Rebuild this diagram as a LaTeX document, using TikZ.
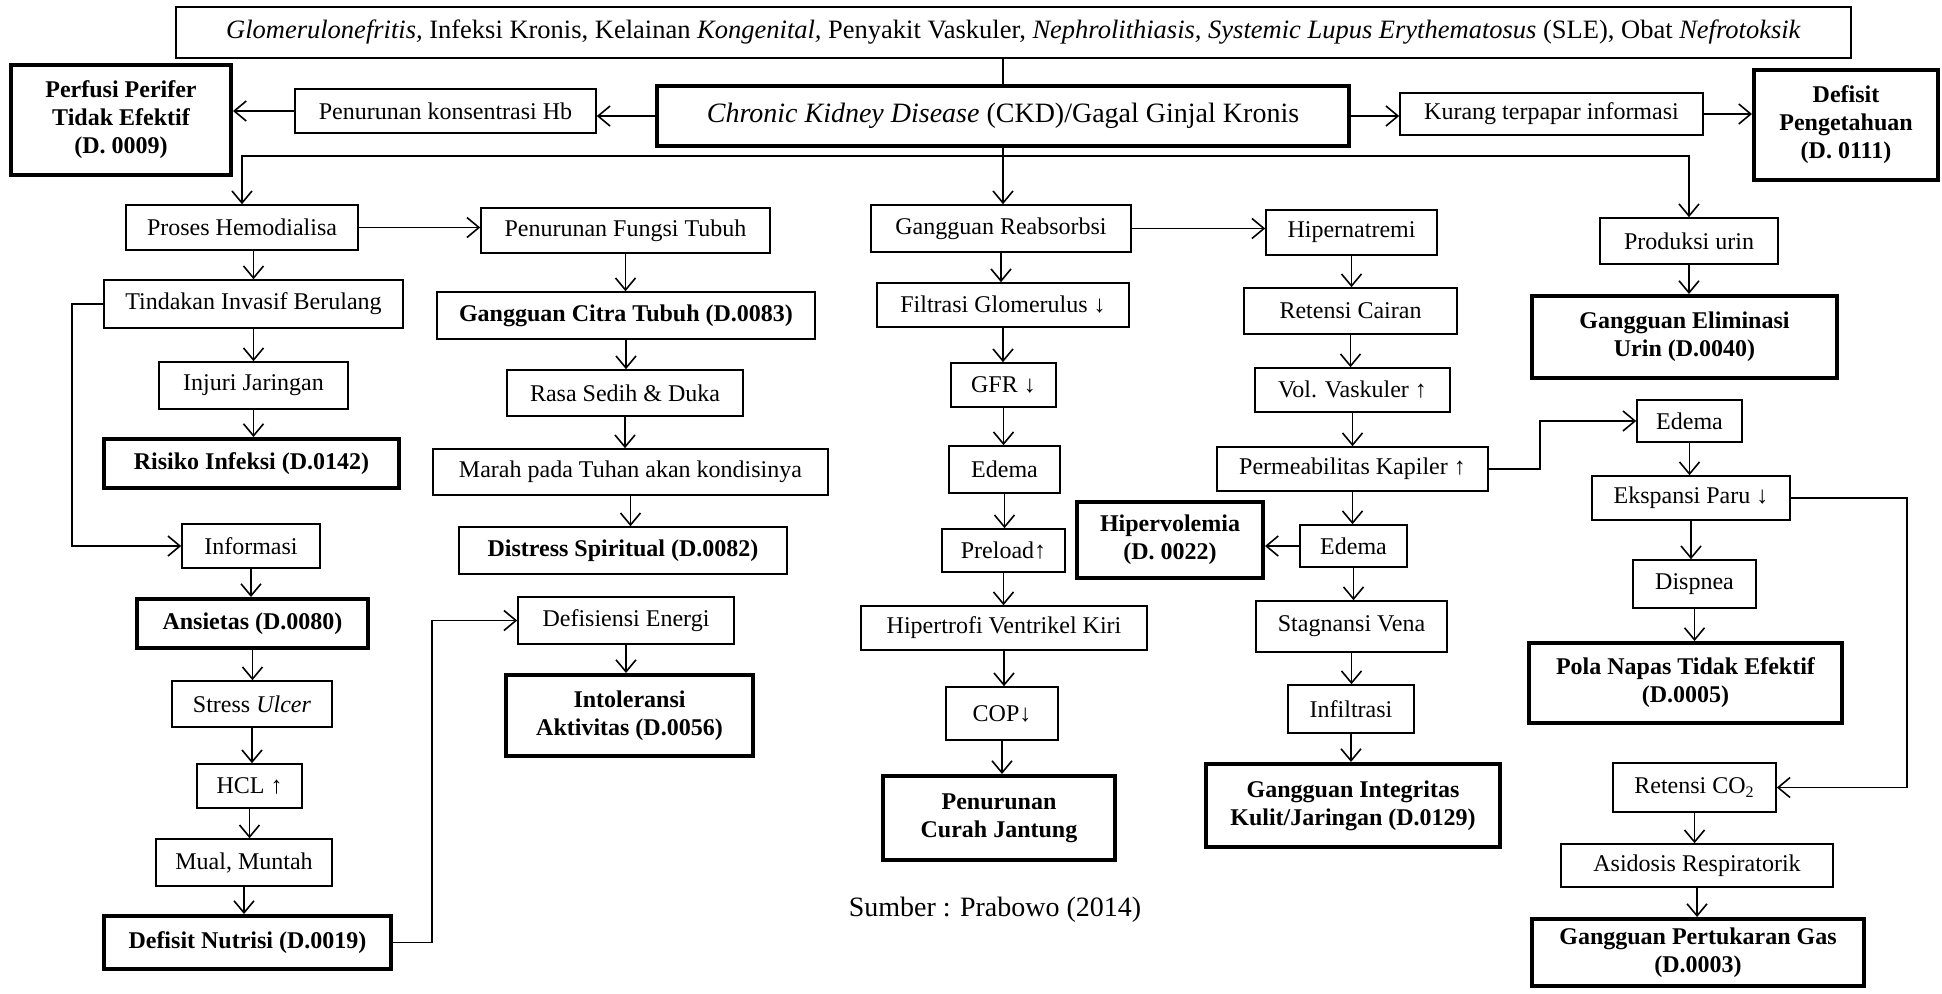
\documentclass[tikz,border=0pt]{standalone}
\usepackage{fontspec}
\setmainfont{Liberation Serif}
\usetikzlibrary{arrows.meta}

\begin{document}
\begin{tikzpicture}[x=0.5pt, y=-0.5pt,
    every node/.style={font=\fontsize{12}{14}\selectfont, align=center, inner sep=0pt},
    proc/.style={draw, line width=0.8pt},
    diag/.style={draw, line width=2pt, font=\fontsize{12}{14}\selectfont\bfseries},
    sz/.style 2 args={minimum width=#1*0.5pt, minimum height=#2*0.5pt},
    arr/.style={-{Straight Barb[length=6pt,width=10pt]}, line width=0.8pt}]
  \useasboundingbox (0,0) rectangle (1942,993);

  \node[proc, sz={1675}{51}, font=\fontsize{13.25}{15}\selectfont] (cause) at (1013.5,32.5)
    {\textit{Glomerulonefritis,} Infeksi Kronis, Kelainan \textit{Kongenital,} Penyakit Vaskuler, \textit{Nephrolithiasis, Systemic Lupus Erythematosus} (SLE), Obat \textit{Nefrotoksik}};
  \node[draw, line width=2pt, sz={692}{60}, font=\fontsize{14}{16}\selectfont] (ckd) at (1003,116)
    {\textit{Chronic Kidney Disease} (CKD)/Gagal Ginjal Kronis};
  \node[proc, sz={301}{44}] (hb) at (445.5,111) {Penurunan konsentrasi Hb};
  \node[diag, sz={220}{110}] (perfusi) at (121,120) {Perfusi Perifer\\Tidak Efektif\\(D. 0009)};
  \node[proc, sz={303}{42}] (kurang) at (1551.5,114) {Kurang terpapar informasi};
  \node[diag, sz={184}{110}] (pengetahuan) at (1846,125) {Defisit\\Pengetahuan\\(D. 0111)};

  \node[proc, sz={232}{45}] (hemo) at (242,227.5) {Proses Hemodialisa};
  \node[proc, sz={289}{45}] (fungsi) at (625.5,230.5) {Penurunan Fungsi Tubuh};
  \node[proc, sz={260}{47}] (reab) at (1001,228.5) {Gangguan Reabsorbsi};
  \node[proc, sz={171}{45}] (hiperna) at (1351.5,232.5) {Hipernatremi};
  \node[proc, sz={178}{46}] (urin) at (1689,241) {Produksi urin};

  \node[proc, sz={299}{48}] (tindakan) at (253.5,304) {Tindakan Invasif Berulang};
  \node[proc, sz={189}{47}] (injuri) at (253.5,385.5) {Injuri Jaringan};
  \node[diag, sz={295}{49}] (risiko) at (251.5,463.5) {Risiko Infeksi (D.0142)};
  \node[proc, sz={138}{44}] (informasi) at (251,546) {Informasi};
  \node[diag, sz={231}{49}] (ansietas) at (252.5,623.5) {Ansietas (D.0080)};
  \node[proc, sz={160}{46}] (stress) at (252,704) {Stress \textit{Ulcer}};
  \node[proc, sz={105}{44}] (hcl) at (249.5,786) {HCL ↑};
  \node[proc, sz={176}{47}] (mual) at (244,862.5) {Mual, Muntah};
  \node[diag, sz={287}{53}] (nutrisi) at (247.5,942.5) {Defisit Nutrisi (D.0019)};

  \node[proc, sz={378}{47}, font=\fontsize{12}{14}\selectfont\bfseries] (citra) at (626,315.5) {Gangguan Citra Tubuh (D.0083)};
  \node[proc, sz={236}{46}] (rasa) at (625,393) {Rasa Sedih \& Duka};
  \node[proc, sz={395}{46}] (marah) at (630.5,472) {Marah pada Tuhan akan kondisinya};
  \node[proc, sz={328}{47}, font=\fontsize{12}{14}\selectfont\bfseries] (distress) at (623,550.5) {Distress Spiritual (D.0082)};
  \node[proc, sz={216}{47}] (defisiensi) at (626,620.5) {Defisiensi Energi};
  \node[diag, sz={247}{81}] (intoleransi) at (629.5,715.5) {Intoleransi\\Aktivitas (D.0056)};

  \node[proc, sz={252}{44}] (filtrasi) at (1003,305) {Filtrasi Glomerulus ↓};
  \node[proc, sz={105}{44}] (gfr) at (1003.5,385) {GFR ↓};
  \node[proc, sz={111}{47}] (edemaA) at (1004.5,469.5) {Edema};
  \node[proc, sz={123}{43}] (preload) at (1003.5,550.5) {Preload↑};
  \node[proc, sz={286}{44}] (hipertrofi) at (1004,628) {Hipertrofi Ventrikel Kiri};
  \node[proc, sz={112}{53}] (cop) at (1002,713.5) {COP↓};
  \node[diag, sz={232}{84}] (curah) at (999,818) {Penurunan\\Curah Jantung};
  \node[font=\fontsize{14}{16}\selectfont] (sumber) at (995,910) {Sumber : Prabowo (2014)};

  \node[proc, sz={213}{46}] (retensi) at (1350.5,311) {Retensi Cairan};
  \node[proc, sz={195}{44}] (vol) at (1352.5,390) {Vol. Vaskuler ↑};
  \node[proc, sz={271}{44}] (perm) at (1352.5,469) {Permeabilitas Kapiler ↑};
  \node[proc, sz={107}{42}] (edemaB) at (1353.5,546) {Edema};
  \node[diag, sz={186}{76}] (hipervol) at (1170,540) {Hipervolemia\\(D. 0022)};
  \node[proc, sz={191}{51}] (stagnansi) at (1351.5,626.5) {Stagnansi Vena};
  \node[proc, sz={126}{48}] (infiltrasi) at (1351,709) {Infiltrasi};
  \node[diag, sz={294}{83}] (integritas) at (1353,805.5) {Gangguan Integritas\\Kulit/Jaringan (D.0129)};

  \node[diag, sz={305}{82}] (eliminasi) at (1684.5,337) {Gangguan Eliminasi\\Urin (D.0040)};
  \node[proc, sz={105}{42}] (edemaC) at (1689.5,421) {Edema};
  \node[proc, sz={198}{44}] (ekspansi) at (1691,498) {Ekspansi Paru ↓};
  \node[proc, sz={123}{48}] (dispnea) at (1694.5,584) {Dispnea};
  \node[diag, sz={313}{80}] (pola) at (1685.5,683) {Pola Napas Tidak Efektif\\(D.0005)};
  \node[proc, sz={163}{49}] (co) at (1694.5,787.5) {Retensi CO\textsubscript{2}};
  \node[proc, sz={272}{43}] (asidosis) at (1697,865.5) {Asidosis Respiratorik};
  \node[diag, sz={332}{67}] (gas) at (1698,952.5) {Gangguan Pertukaran Gas\\(D.0003)};

  \draw[line width=0.8pt] (ckd.north |- cause.south) -- (ckd.north);
  \draw[arr] (ckd) -- (ckd -| hb.east);
  \draw[arr] (hb) -- (hb -| perfusi.east);
  \draw[arr] (ckd) -- (ckd -| kurang.west);
  \draw[arr] (kurang) -- (kurang -| pengetahuan.west);
  \coordinate (split) at ([yshift=-4pt]ckd.south);
  \draw[arr] (split) -| (hemo.north);
  \draw[arr] (split) -| (urin.north);
  \draw[arr] (ckd.south) -- (ckd.south |- reab.north);
  \draw[arr] (hemo) -- (hemo -| fungsi.west);
  \draw[arr] (reab) -- (reab -| hiperna.west);
  \draw[arr] (edemaB) -- (edemaB -| hipervol.east);
  \draw[arr] (tindakan.north |- hemo.south) -- (tindakan.north);
  \foreach \a/\b in {tindakan/injuri, injuri/risiko, informasi/ansietas, ansietas/stress,
      stress/hcl, hcl/mual, mual/nutrisi, fungsi/citra, citra/rasa, rasa/marah,
      marah/distress, defisiensi/intoleransi, reab/filtrasi, filtrasi/gfr, gfr/edemaA,
      edemaA/preload, preload/hipertrofi, hipertrofi/cop, cop/curah, hiperna/retensi,
      retensi/vol, vol/perm, perm/edemaB, edemaB/stagnansi, stagnansi/infiltrasi,
      infiltrasi/integritas, urin/eliminasi, edemaC/ekspansi, ekspansi/dispnea,
      dispnea/pola, co/asidosis, asidosis/gas}
    \draw[arr] (\a) -- (\a |- \b.north);
  \draw[arr] (tindakan.west) -- ++(-31,0) |- (informasi.west);
  \draw[arr] (nutrisi.east) -- ++(39,0) |- (defisiensi.west);
  \draw[arr] (perm.east) -- ++(51,0) |- (edemaC.west);
  \draw[arr] (ekspansi.east) -- ++(116,0) |- (co.east);
\end{tikzpicture}
\end{document}
